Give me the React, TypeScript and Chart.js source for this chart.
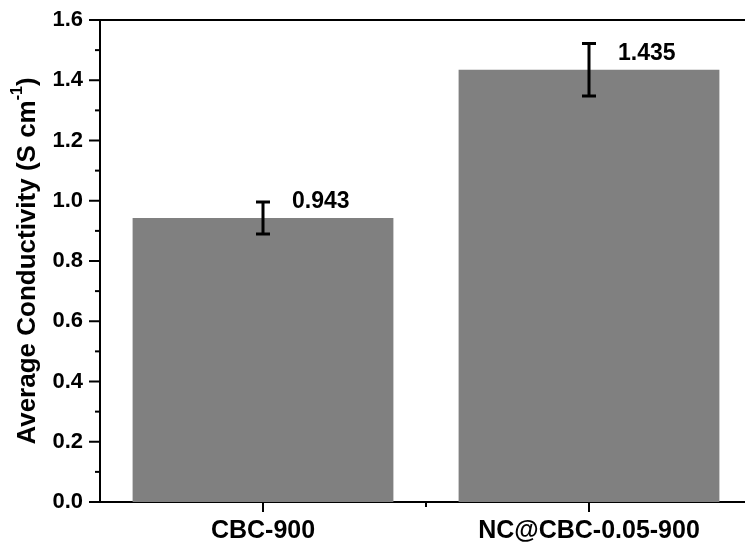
import React, { useEffect, useRef } from "react";
import { Chart, registerables } from "chart.js";

Chart.register(...registerables);

// Samples and their measured average conductivity (S cm^-1) with error
const samples = ["CBC-900", "NC@CBC-0.05-900"];
const conductivity = [0.943, 1.435];
const conductivityError = [0.053, 0.087];
const valueLabels = ["0.943", "1.435"];

// Y axis range and tick spacing
const yMin = 0;
const yMax = 1.6;
const yStep = 0.2;

const FONT = "'Liberation Sans', Arial, sans-serif";

const axisDecorations = {
  id: "axisDecorations",
  afterDatasetsDraw(chart: any) {
    const { ctx, chartArea, scales } = chart;
    const xs = scales.x;
    const ys = scales.y;
    ctx.save();
    ctx.strokeStyle = "#000";
    ctx.fillStyle = "#000";

    // top frame line
    ctx.lineWidth = 2;
    ctx.beginPath();
    ctx.moveTo(chartArea.left, chartArea.top);
    ctx.lineTo(chartArea.right, chartArea.top);
    ctx.stroke();

    // y axis major + minor tick marks (outward)
    ctx.lineWidth = 2;
    const majors = ys.ticks.map((t: any) => t.value);
    majors.forEach((v: number, i: number) => {
      const py = ys.getPixelForValue(v);
      ctx.beginPath();
      ctx.moveTo(chartArea.left - 11, py);
      ctx.lineTo(chartArea.left, py);
      ctx.stroke();
      if (i < majors.length - 1) {
        const pm = ys.getPixelForValue((v + majors[i + 1]) / 2);
        ctx.beginPath();
        ctx.moveTo(chartArea.left - 5, pm);
        ctx.lineTo(chartArea.left, pm);
        ctx.stroke();
      }
    });

    // x axis ticks: major at sample centres, minor at boundaries
    samples.forEach((_, i) => {
      const px = xs.getPixelForValue(i);
      ctx.beginPath();
      ctx.moveTo(px, chartArea.bottom);
      ctx.lineTo(px, chartArea.bottom + 10);
      ctx.stroke();
      const pb = xs.getPixelForValue(i + 0.5);
      ctx.beginPath();
      ctx.moveTo(pb, chartArea.bottom);
      ctx.lineTo(pb, chartArea.bottom + 5);
      ctx.stroke();
    });

    // error bars
    const meta = chart.getDatasetMeta(0);
    ctx.lineWidth = 3;
    meta.data.forEach((bar: any, i: number) => {
      const cx = bar.x;
      const hi = ys.getPixelForValue(conductivity[i] + conductivityError[i]);
      const lo = ys.getPixelForValue(conductivity[i] - conductivityError[i]);
      ctx.beginPath();
      ctx.moveTo(cx, hi);
      ctx.lineTo(cx, lo);
      ctx.moveTo(cx - 7, hi);
      ctx.lineTo(cx + 7, hi);
      ctx.moveTo(cx - 7, lo);
      ctx.lineTo(cx + 7, lo);
      ctx.stroke();
    });

    // value labels
    ctx.font = `bold 23px ${FONT}`;
    ctx.textAlign = "left";
    ctx.textBaseline = "middle";
    meta.data.forEach((bar: any, i: number) => {
      ctx.fillText(valueLabels[i], bar.x + 29, bar.y - 16);
    });

    // y axis title with superscript unit
    const cy = (chartArea.top + chartArea.bottom) / 2;
    ctx.translate(28, cy);
    ctx.rotate(-Math.PI / 2);
    const main = "Average Conductivity (S cm";
    const sup = "-1";
    const close = ")";
    ctx.font = `bold 26px ${FONT}`;
    const wMain = ctx.measureText(main).width;
    const wClose = ctx.measureText(close).width;
    ctx.font = `bold 16px ${FONT}`;
    const wSup = ctx.measureText(sup).width;
    const total = wMain + wSup + wClose;
    let tx = -total / 2;
    ctx.textAlign = "left";
    ctx.textBaseline = "middle";
    ctx.font = `bold 26px ${FONT}`;
    ctx.fillText(main, tx, 0);
    tx += wMain;
    ctx.font = `bold 16px ${FONT}`;
    ctx.fillText(sup, tx, -10);
    tx += wSup;
    ctx.font = `bold 26px ${FONT}`;
    ctx.fillText(close, tx, 0);

    ctx.restore();
  },
};

export default function App() {
  const canvasRef = useRef<HTMLCanvasElement | null>(null);

  useEffect(() => {
    if (!canvasRef.current) return;
    const chart = new Chart(canvasRef.current, {
      type: "bar",
      data: {
        labels: samples,
        datasets: [
          {
            data: conductivity,
            backgroundColor: "#808080",
            borderWidth: 0,
            categoryPercentage: 0.8,
            barPercentage: 1,
          },
        ],
      },
      options: {
        animation: false,
        responsive: false,
        layout: { padding: { top: 20, right: 8, left: 0, bottom: 0 } },
        plugins: {
          legend: { display: false },
          tooltip: { enabled: false },
        },
        scales: {
          x: {
            type: "category",
            offset: true,
            grid: { display: false, drawTicks: false },
            border: { display: true, color: "#000", width: 2 },
            ticks: {
              color: "#000",
              padding: 14,
              maxRotation: 0,
              font: { family: FONT, size: 25, weight: "bold" },
            },
            afterFit: (scale: any) => {
              scale.height = 47;
              scale.paddingLeft = 0;
              scale.paddingRight = 0;
            },
          },
          y: {
            min: yMin,
            max: yMax,
            grid: { display: false, drawTicks: false },
            border: { display: true, color: "#000", width: 2 },
            ticks: {
              stepSize: yStep,
              color: "#000",
              padding: 17,
              font: { family: FONT, size: 22, weight: "bold" },
              callback: (v: any) => Number(v).toFixed(1),
            },
            afterFit: (scale: any) => {
              scale.width = 100;
              scale.paddingTop = 0;
              scale.paddingBottom = 0;
            },
          },
        },
      },
      plugins: [axisDecorations],
    });
    return () => chart.destroy();
  }, []);

  return (
    <div
      style={{
        position: "absolute",
        left: 0,
        top: 0,
        width: 745,
        height: 549,
        overflow: "hidden",
        background: "#fff",
      }}
    >
      <canvas ref={canvasRef} width={760} height={549} style={{ display: "block" }} />
    </div>
  );
}
